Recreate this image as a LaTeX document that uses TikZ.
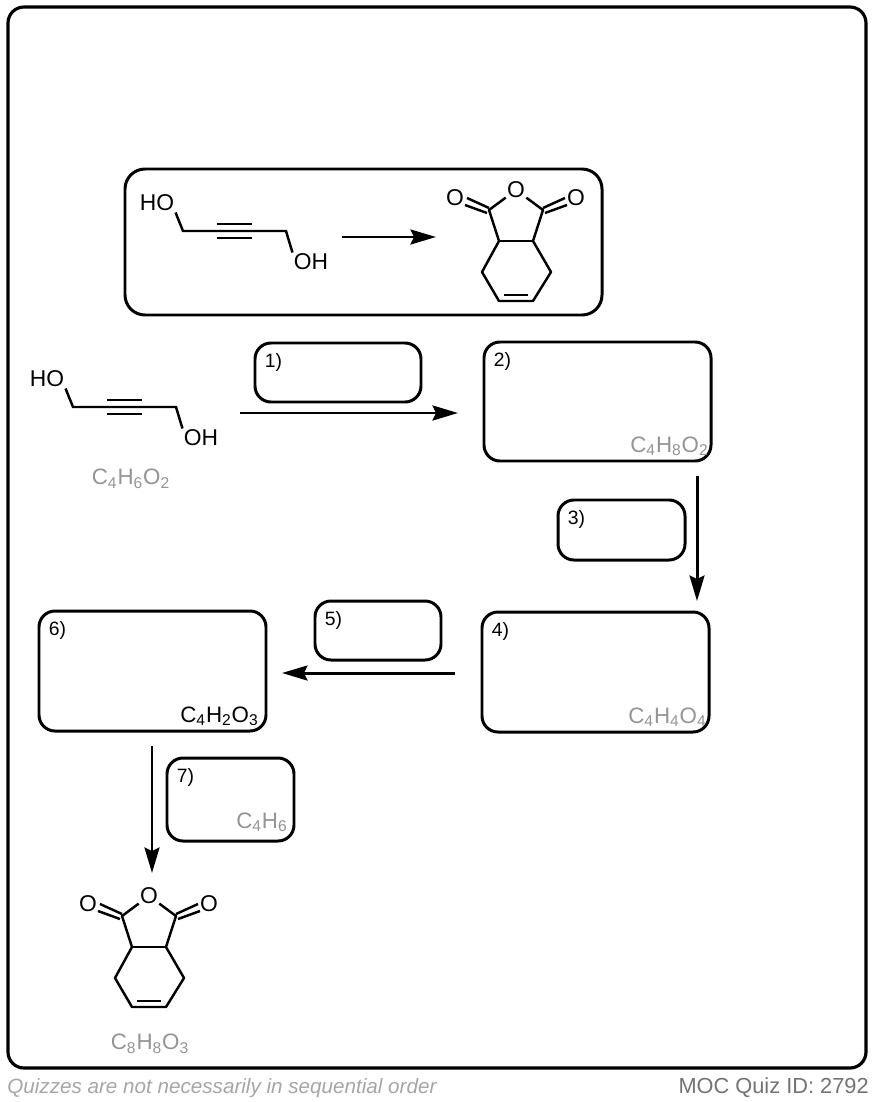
\documentclass[tikz,border=0pt]{standalone}
\usepackage{fontspec}
\setmainfont{Liberation Sans}
\usetikzlibrary{arrows.meta}
\def\u{0.02cm}
\newcommand{\sub}[1]{\textsubscript{#1}}
\tikzset{
  bond/.style={black,line width=1.4pt},
  atom/.style={inner sep=0.6pt,font=\fontsize{13}{15}\selectfont},
  rbox/.style={draw=black,line width=1.7pt,outer sep=0pt,rounded corners=16*\u,anchor=north west},
  tag/.style={inner sep=0pt,anchor=base west,font=\fontsize{11}{13}\selectfont},
  formula/.style={inner sep=0pt,anchor=base east,text=black!42,font=\fontsize{12.7}{15}\selectfont},
  rxn/.style={line width=1.7pt,-{Stealth[length=14.5pt,width=8.5pt,inset=2pt]}},
  diol/.pic={
    \coordinate (-c1) at (0,0);
    \coordinate (-c2) at (34,0);
    \coordinate (-c3) at (69,0);
    \coordinate (-c4) at (103,0);
    \node[atom] (-ho) at (-26,28) {HO};
    \node[atom] (-oh) at (128,-31) {OH};
    \draw[bond] (-ho.south east) -- (-c1) -- (-c2) -- (-c3) -- (-c4) -- (-oh.north west);
    \draw[bond] ([shift={(0,7)}]-c2) -- ([shift={(0,7)}]-c3);
    \draw[bond] ([shift={(0,-7)}]-c2) -- ([shift={(0,-7)}]-c3);
  },
  anhydride/.pic={
    \node[atom] (-o) at (0,0) {O};
    \node[atom] (-ol) at (-61,-8) {O};
    \node[atom] (-or) at (60,-8) {O};
    \coordinate (-cl) at (-27,-20);
    \coordinate (-cr) at (27,-20);
    \coordinate (-jl) at (-17,-51);
    \coordinate (-jr) at (17,-51);
    \coordinate (-hl) at (-34,-82);
    \coordinate (-hr) at (35,-82);
    \coordinate (-bl) at (-17,-111);
    \coordinate (-br) at (17,-111);
    \draw[bond,line join=round] (-o) -- (-cl) -- (-jl) -- (-hl) -- (-bl) -- (-br) -- (-hr) -- (-jr) -- (-cr) -- (-o);
    \draw[bond] (-jl) -- (-jr);
    \draw[bond] ([shift={(5,6)}]-bl) -- ([shift={(-5,6)}]-br);
    % carbonyls
    \draw[bond] ([shift={(0,2)}]-cl) -- ([shift={(-22,12)}]-cl);
    \draw[bond] ([shift={(-2,-3)}]-cl) -- ([shift={(-24,5)}]-cl);
    \draw[bond] ([shift={(0,2)}]-cr) -- ([shift={(22,12)}]-cr);
    \draw[bond] ([shift={(2,-3)}]-cr) -- ([shift={(24,5)}]-cr);
  },
}
\begin{document}
\begin{tikzpicture}[x=\u,y=\u]
\useasboundingbox (0,0) rectangle (874,-1102);
% frame
\node[rbox,line width=1.8pt,minimum width=858*\u,minimum height=1061*\u] (frame) at (8,-7) {};
% question
\node[rbox,minimum width=477*\u,minimum height=146*\u,rounded corners=20*\u] (question) at (125,-169) {};
\pic (qsm) at (183,-231) {diol};
\pic (qpr) at (516,-190) {anhydride};
\coordinate (qa) at (342,-237);
\coordinate (qb) at (436,-237);
\draw[rxn] (qa) -- (qb);
% scheme
\pic (sm) at (73,-407) {diol};
\node[formula,anchor=center] (fsm) at (131,-479) {C\sub{4}H\sub{6}O\sub{2}};
\node[rbox,minimum width=166*\u,minimum height=59*\u] (b1) at (255,-343) {};
\node[rbox,minimum width=227*\u,minimum height=119*\u] (b2) at (484,-342) {};
\node[rbox,minimum width=127*\u,minimum height=60*\u] (b3) at (558,-500) {};
\node[rbox,minimum width=227*\u,minimum height=120*\u] (b4) at (482,-612) {};
\node[rbox,minimum width=126*\u,minimum height=59*\u] (b5) at (315,-601) {};
\node[rbox,minimum width=227*\u,minimum height=120*\u] (b6) at (39,-611) {};
\node[rbox,minimum width=127*\u,minimum height=83*\u] (b7) at (167,-758) {};
\foreach \i in {1,...,7}
  \node[tag] (t\i) at ([shift={(9.5,-24)}]b\i.north west) {\i)};
\node[formula] (f2) at ([shift={(-2,9)}]b2.south east) {C\sub{4}H\sub{8}O\sub{2}};
\node[formula] (f4) at ([shift={(-2,9)}]b4.south east) {C\sub{4}H\sub{4}O\sub{4}};
\node[formula,text=black] (f6) at ([shift={(-7,9)}]b6.south east) {C\sub{4}H\sub{2}O\sub{3}};
\node[formula] (f7) at ([shift={(-6,13)}]b7.south east) {C\sub{4}H\sub{6}};
\coordinate (a1s) at (240,-413);
\coordinate (a1e) at (458,-413);
\coordinate (a2s) at (697,-476);
\coordinate (a2e) at (697,-601);
\coordinate (a3s) at (455,-673);
\coordinate (a3e) at (282,-673);
\coordinate (a4s) at (152,-746);
\coordinate (a4e) at (152,-873);
\draw[rxn] (a1s) -- (a1e);
\draw[rxn] (a2s) -- (a2e);
\draw[rxn] (a3s) -- (a3e);
\draw[rxn] (a4s) -- (a4e);
\pic (pr) at (149,-896) {anhydride};
\node[formula,anchor=center] (fpr) at (150,-1044) {C\sub{8}H\sub{8}O\sub{3}};
% footer
\node[inner sep=0pt,anchor=base west,text=black!35,font=\fontsize{11.75}{14}\selectfont\itshape] (note) at (7,-1093) {Quizzes are not necessarily in sequential order};
\node[inner sep=0pt,anchor=base east,text=black!55,font=\fontsize{12.4}{14}\selectfont] (quiz) at (869,-1093) {MOC Quiz ID: 2792};
\end{tikzpicture}
\end{document}
